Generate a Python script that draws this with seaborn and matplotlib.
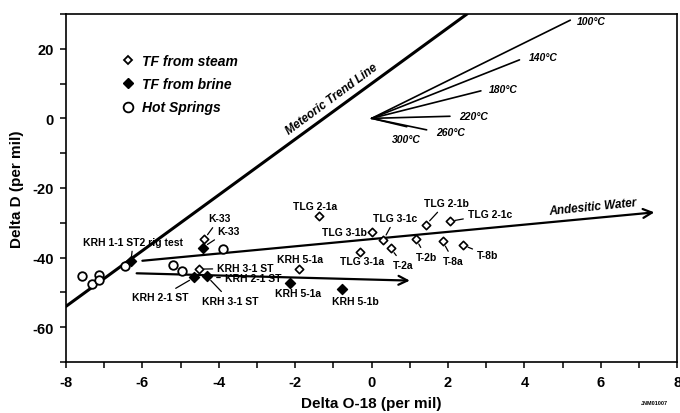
import pandas as pd
import matplotlib.pyplot as plt
import seaborn as sns
from matplotlib.lines import Line2D
from matplotlib.ticker import MultipleLocator

# values (per mil)
steam_names = ["K-33", "KRH 3-1 ST", "KRH 5-1a", "TLG 2-1a", "TLG 3-1b", "TLG 3-1c",
               "TLG 3-1a", "T-2a", "TLG 2-1b", "TLG 2-1c", "T-2b", "T-8a", "T-8b"]
steam_o18 = [-4.38, -4.53, -1.90, -1.37, 0.00, 0.31, -0.30, 0.50, 1.42, 2.04, 1.16, 1.86, 2.39]
steam_dd = [-34.7, -43.3, -43.3, -28.1, -32.7, -34.9, -38.3, -37.3, -30.6, -29.6, -34.7, -35.3, -36.4]

brine_names = ["KRH 1-1 ST2 rig test", "K-33", "KRH 2-1 ST", "KRH 3-1 ST", "KRH 5-1a", "KRH 5-1b"]
brine_o18 = [-6.30, -4.42, -4.64, -4.31, -2.13, -0.78]
brine_dd = [-41.1, -37.1, -45.7, -45.4, -47.2, -49.1]

spring_o18 = [-7.59, -7.33, -7.13, -7.14, -6.45, -5.20, -4.95, -3.89]
spring_dd = [-45.4, -47.7, -44.9, -46.4, -42.4, -42.1, -43.8, -37.6]

mwl_o18 = [-8.0, 2.5]
mwl_dd = [-54.0, 30.0]

fan_temps = ["100°C", "140°C", "180°C", "220°C", "260°C", "300°C"]
fan_o18 = [5.2, 3.87, 2.86, 2.05, 1.44, 0.92]
fan_dd = [28.2, 16.8, 7.9, 0.6, -3.3, -2.4]

andesitic_o18 = [-6.0, 7.4]
andesitic_dd = [-40.9, -27.0]
lower_o18 = [-6.15, 1.0]
lower_dd = [-44.5, -46.6]

# label placement (text x, text y, leader line?)
steam_lbl = [(-3.98, -28.7, True), (-3.30, -43.1, True), (-1.87, -40.3, False),
             (-1.48, -25.1, False), (-0.72, -32.6, False), (0.62, -28.6, True),
             (-0.26, -40.9, False), (0.83, -42.1, True), (1.95, -24.3, True),
             (3.10, -27.5, True), (1.43, -39.8, True), (2.14, -40.9, True),
             (3.04, -39.3, True)]
brine_lbl = [(-6.24, -35.4, True), (-3.75, -32.3, True), (-5.53, -51.4, True),
             (-3.70, -52.4, True), (-1.92, -50.3, False), (-0.43, -52.4, False)]
fan_lbl = [(5.75, 28.0), (4.50, 17.5), (3.45, 8.4), (2.68, 0.8), (2.08, -4.0), (0.92, -5.9)]

sns.set_style("ticks")
plt.rcParams["font.family"] = ["Liberation Sans", "DejaVu Sans"]
plt.rcParams["font.weight"] = "bold"
plt.rcParams["axes.unicode_minus"] = False
for k in ["text.color", "axes.labelcolor", "xtick.color", "ytick.color", "axes.edgecolor"]:
    plt.rcParams[k] = "black"

fig = plt.figure(figsize=(6.8, 4.14), dpi=100)
ax = fig.add_axes([0.097, 0.123, 0.899, 0.841])

steam = pd.DataFrame({"o18": steam_o18, "dd": steam_dd})
brine = pd.DataFrame({"o18": brine_o18, "dd": brine_dd})
springs = pd.DataFrame({"o18": spring_o18, "dd": spring_dd})

# lines first
ax.plot(mwl_o18, mwl_dd, color="black", lw=2.2, zorder=2)
for fx, fy in zip(fan_o18, fan_dd):
    ax.plot([0, fx], [0, fy], color="black", lw=1.2, zorder=2)
ax.annotate("", xy=(andesitic_o18[1], andesitic_dd[1]), xytext=(andesitic_o18[0], andesitic_dd[0]),
            arrowprops=dict(arrowstyle="->", lw=1.6, color="black", mutation_scale=16,
                            shrinkA=0, shrinkB=0))
ax.annotate("", xy=(lower_o18[1], lower_dd[1]), xytext=(lower_o18[0], lower_dd[0]),
            arrowprops=dict(arrowstyle="->", lw=1.6, color="black", mutation_scale=16,
                            shrinkA=0, shrinkB=0))

sns.scatterplot(data=springs, x="o18", y="dd", marker="o", s=38, color="white",
                edgecolor="black", linewidth=1.3, ax=ax, zorder=3)
sns.scatterplot(data=steam, x="o18", y="dd", marker="D", s=18, color="white",
                edgecolor="black", linewidth=1.2, ax=ax, zorder=4)
sns.scatterplot(data=brine, x="o18", y="dd", marker="D", s=26, color="black",
                edgecolor="black", linewidth=1.0, ax=ax, zorder=4)

lab_kw = dict(fontsize=7.5, fontweight="bold", ha="center", va="center")
lead = dict(arrowstyle="-", lw=0.9, color="black", shrinkA=1, shrinkB=4)
for names, xs, ys, lbl in [(steam_names, steam_o18, steam_dd, steam_lbl),
                           (brine_names, brine_o18, brine_dd, brine_lbl)]:
    for n, x, y, (tx, ty, has_lead) in zip(names, xs, ys, lbl):
        ax.annotate(n, xy=(x, y), xytext=(tx, ty),
                    arrowprops=lead if has_lead else None, **lab_kw)
# second "KRH 2-1 ST" label on the upper right of the cluster
ax.annotate("KRH 2-1 ST", xy=(-4.2, -45.7), xytext=(-3.10, -45.8), arrowprops=lead, **lab_kw)

for t, (tx, ty) in zip(fan_temps, fan_lbl):
    ax.text(tx, ty, t, fontsize=7.5, fontweight="bold", style="italic", ha="center", va="center")

ax.text(-1.05, 5.6, "Meteoric Trend Line", rotation=36.5, fontsize=8.5, fontweight="bold",
        style="italic", ha="center", va="center")
ax.text(5.8, -25.3, "Andesitic Water", rotation=5.7, fontsize=8.5, fontweight="bold",
        style="italic", ha="center", va="center")

handles = [Line2D([], [], ls="", marker="D", ms=4.5, mfc="white", mec="black", mew=1.3),
           Line2D([], [], ls="", marker="D", ms=5.5, mfc="black", mec="black"),
           Line2D([], [], ls="", marker="o", ms=7, mfc="white", mec="black", mew=1.3)]
ax.legend(handles, ["TF from steam", "TF from brine", "Hot Springs"], loc="upper left",
          bbox_to_anchor=(0.09, 0.886), frameon=False, borderpad=0, borderaxespad=0,
          handlelength=1.0, handletextpad=0.5, labelspacing=0.68,
          prop=dict(size=10, weight="bold", style="italic"))

ax.set_xlim(-8, 8)
ax.set_ylim(-70, 30)
ax.xaxis.set_major_locator(MultipleLocator(2))
ax.xaxis.set_minor_locator(MultipleLocator(1))
ax.yaxis.set_major_locator(MultipleLocator(20))
ax.yaxis.set_minor_locator(MultipleLocator(10))
ax.tick_params(which="both", direction="out", length=4, width=1.1, labelsize=10.5, pad=5)
for sp in ax.spines.values():
    sp.set_linewidth(1.2)
for lab in ax.get_xticklabels() + ax.get_yticklabels():
    lab.set_fontweight("bold")

ax.set_xlabel("Delta O-18 (per mil)", fontsize=11, fontweight="bold", labelpad=5)
ax.set_ylabel("Delta D (per mil)", fontsize=11, fontweight="bold", labelpad=6)
fig.text(0.963, 0.022, "JNM01007", fontsize=4, fontweight="bold", ha="center")

fig.savefig("out.png", dpi=100)
